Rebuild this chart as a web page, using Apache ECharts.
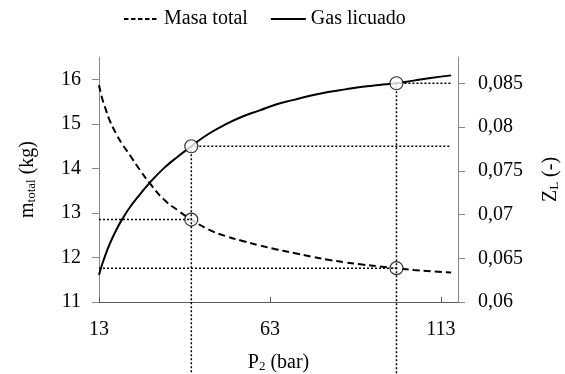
<!DOCTYPE html>
<html>
<head>
<meta charset="utf-8">
<script src="https://cdn.jsdelivr.net/npm/echarts@6/dist/echarts.min.js"></script>
<style>
  html, body { margin: 0; padding: 0; background: #fff; }
  #chart { width: 565px; height: 374px; }
</style>
</head>
<body>
<div id="chart"></div>
<script>
// presión P2 (bar)
const pressure = [13, 14, 15, 16, 18, 20, 22, 25, 28, 32, 36, 40, 45, 50, 55, 60, 65, 70, 75, 80, 85, 90, 95, 100, 105, 110, 116]
// masa total (kg) - eje izquierdo
const masaTotal = [15.87, 15.55, 15.32, 15.10, 14.78, 14.52, 14.30, 13.96, 13.65, 13.30, 13.06, 12.85, 12.63, 12.48, 12.37, 12.27, 12.18, 12.10, 12.02, 11.95, 11.89, 11.84, 11.80, 11.76, 11.72, 11.69, 11.66]
// fracción de gas licuado Z_L (-) - eje derecho
const gasLicuado = [0.0631, 0.0644, 0.0655, 0.0665, 0.0682, 0.0696, 0.0708, 0.0723, 0.0737, 0.0753, 0.0766, 0.0778, 0.0792, 0.0803, 0.0812, 0.0819, 0.0826, 0.0831, 0.0836, 0.0840, 0.0843, 0.0846, 0.0848, 0.0850, 0.0853, 0.0856, 0.0859]

// puntos marcados
const markP = [40, 100]
const markMasa = [12.85, 11.76]
const markGas = [0.0778, 0.085]

// ticks
const xTicks = [13, 63, 113]
const leftTicks = [11, 12, 13, 14, 15, 16]
const rightTicks = [0.06, 0.065, 0.07, 0.075, 0.08, 0.085]

const FONT = "'Liberation Serif', 'Times New Roman', serif"
const xMin = 13, xEnd = 116, zBottom = 0.05

const chart = echarts.init(document.getElementById('chart'))

const pair = (xs, ys) => xs.map((x, i) => [x, ys[i]])

function guide(data, yIdx) {
  return {
    type: 'line',
    yAxisIndex: yIdx,
    data: data,
    symbol: 'none',
    silent: true,
    clip: false,
    z: 4,
    lineStyle: { color: '#000', width: 1.5, type: [2, 2] }
  }
}

const guides = []
markP.forEach((p, i) => {
  guides.push(guide([[xMin, markMasa[i]], [p, markMasa[i]]], 0))
  guides.push(guide([[p, markGas[i]], [xEnd, markGas[i]]], 1))
  guides.push(guide([[p, markGas[i]], [p, zBottom]], 1))
})

const fmt = v => String(+v.toFixed(3)).replace('.', ',')

const rich = {
  n: { fontFamily: FONT, fontSize: 20, color: '#000' },
  s: { fontFamily: FONT, fontSize: 13, color: '#000', verticalAlign: 'bottom', padding: [8, 0, 0, 0] }
}

chart.setOption({
  animation: false,
  textStyle: { fontFamily: FONT },
  legend: {
    data: [
      { name: 'Masa total', lineStyle: { type: [4.5, 2.5] } },
      { name: 'Gas licuado' }
    ],
    top: 9,
    left: 123,
    padding: 0,
    itemWidth: 35,
    itemHeight: 12,
    itemGap: 22,
    itemStyle: { opacity: 0 },
    textStyle: { fontFamily: FONT, fontSize: 20, color: '#000' }
  },
  grid: { left: 99, right: 107, top: 57, bottom: 72, outerBoundsMode: 'none' },
  xAxis: {
    type: 'value',
    min: 13,
    max: 118,
    splitLine: { show: false },
    axisLine: { lineStyle: { color: '#595959', width: 1 } },
    axisTick: { inside: true, length: 5, customValues: xTicks, lineStyle: { color: '#595959' } },
    axisLabel: { customValues: xTicks, margin: 18, fontFamily: FONT, fontSize: 20, color: '#000' },
    name: '{n|P}{s|2}{n| (bar)}',
    nameLocation: 'middle',
    nameGap: 50,
    nameTextStyle: { rich: rich }
  },
  yAxis: [
    {
      type: 'value',
      min: 11,
      max: 16.5,
      position: 'left',
      splitLine: { show: false },
      axisLine: { show: true, lineStyle: { color: '#868686' } },
      axisTick: { show: true, length: 7, customValues: leftTicks, lineStyle: { color: '#868686' } },
      axisLabel: { customValues: leftTicks, margin: 18, fontFamily: FONT, fontSize: 20, color: '#000' },
      name: '{n|m}{s|total}{n| (kg)}',
      nameLocation: 'middle',
      nameRotate: 90,
      nameGap: 61,
      nameTextStyle: { rich: rich }
    },
    {
      type: 'value',
      min: 0.06,
      max: 0.088,
      position: 'right',
      splitLine: { show: false },
      axisLine: { show: true, lineStyle: { color: '#868686' } },
      axisTick: { show: true, length: 7, customValues: rightTicks, lineStyle: { color: '#868686' } },
      axisLabel: { customValues: rightTicks, margin: 20, formatter: fmt, fontFamily: FONT, fontSize: 20, color: '#000' },
      name: '{n|Z}{s|L}{n| (-)}',
      nameLocation: 'middle',
      nameRotate: 90,
      nameGap: 82,
      nameTextStyle: { rich: rich }
    }
  ],
  series: [
    {
      name: 'Masa total',
      type: 'line',
      yAxisIndex: 0,
      data: pair(pressure, masaTotal),
      smooth: true,
      symbol: 'none',
      z: 2,
      lineStyle: { color: '#000', width: 2, type: [7, 4] },
      itemStyle: { color: '#000' }
    },
    {
      name: 'Gas licuado',
      type: 'line',
      yAxisIndex: 1,
      data: pair(pressure, gasLicuado),
      smooth: true,
      symbol: 'none',
      z: 2,
      lineStyle: { color: '#000', width: 2 },
      itemStyle: { color: '#000' }
    },
    {
      type: 'scatter',
      yAxisIndex: 0,
      data: pair(markP, markMasa),
      symbol: 'circle',
      symbolSize: 13,
      silent: true,
      z: 3,
      itemStyle: { color: '#fff', borderColor: '#000', borderWidth: 1.2 }
    },
    ...guides,
    {
      type: 'scatter',
      yAxisIndex: 1,
      data: pair(markP, markGas),
      symbol: 'circle',
      symbolSize: 13,
      silent: true,
      z: 5,
      itemStyle: { color: '#fff', borderColor: '#000', borderWidth: 1.2 }
    }
  ]
})
</script>
</body>
</html>
